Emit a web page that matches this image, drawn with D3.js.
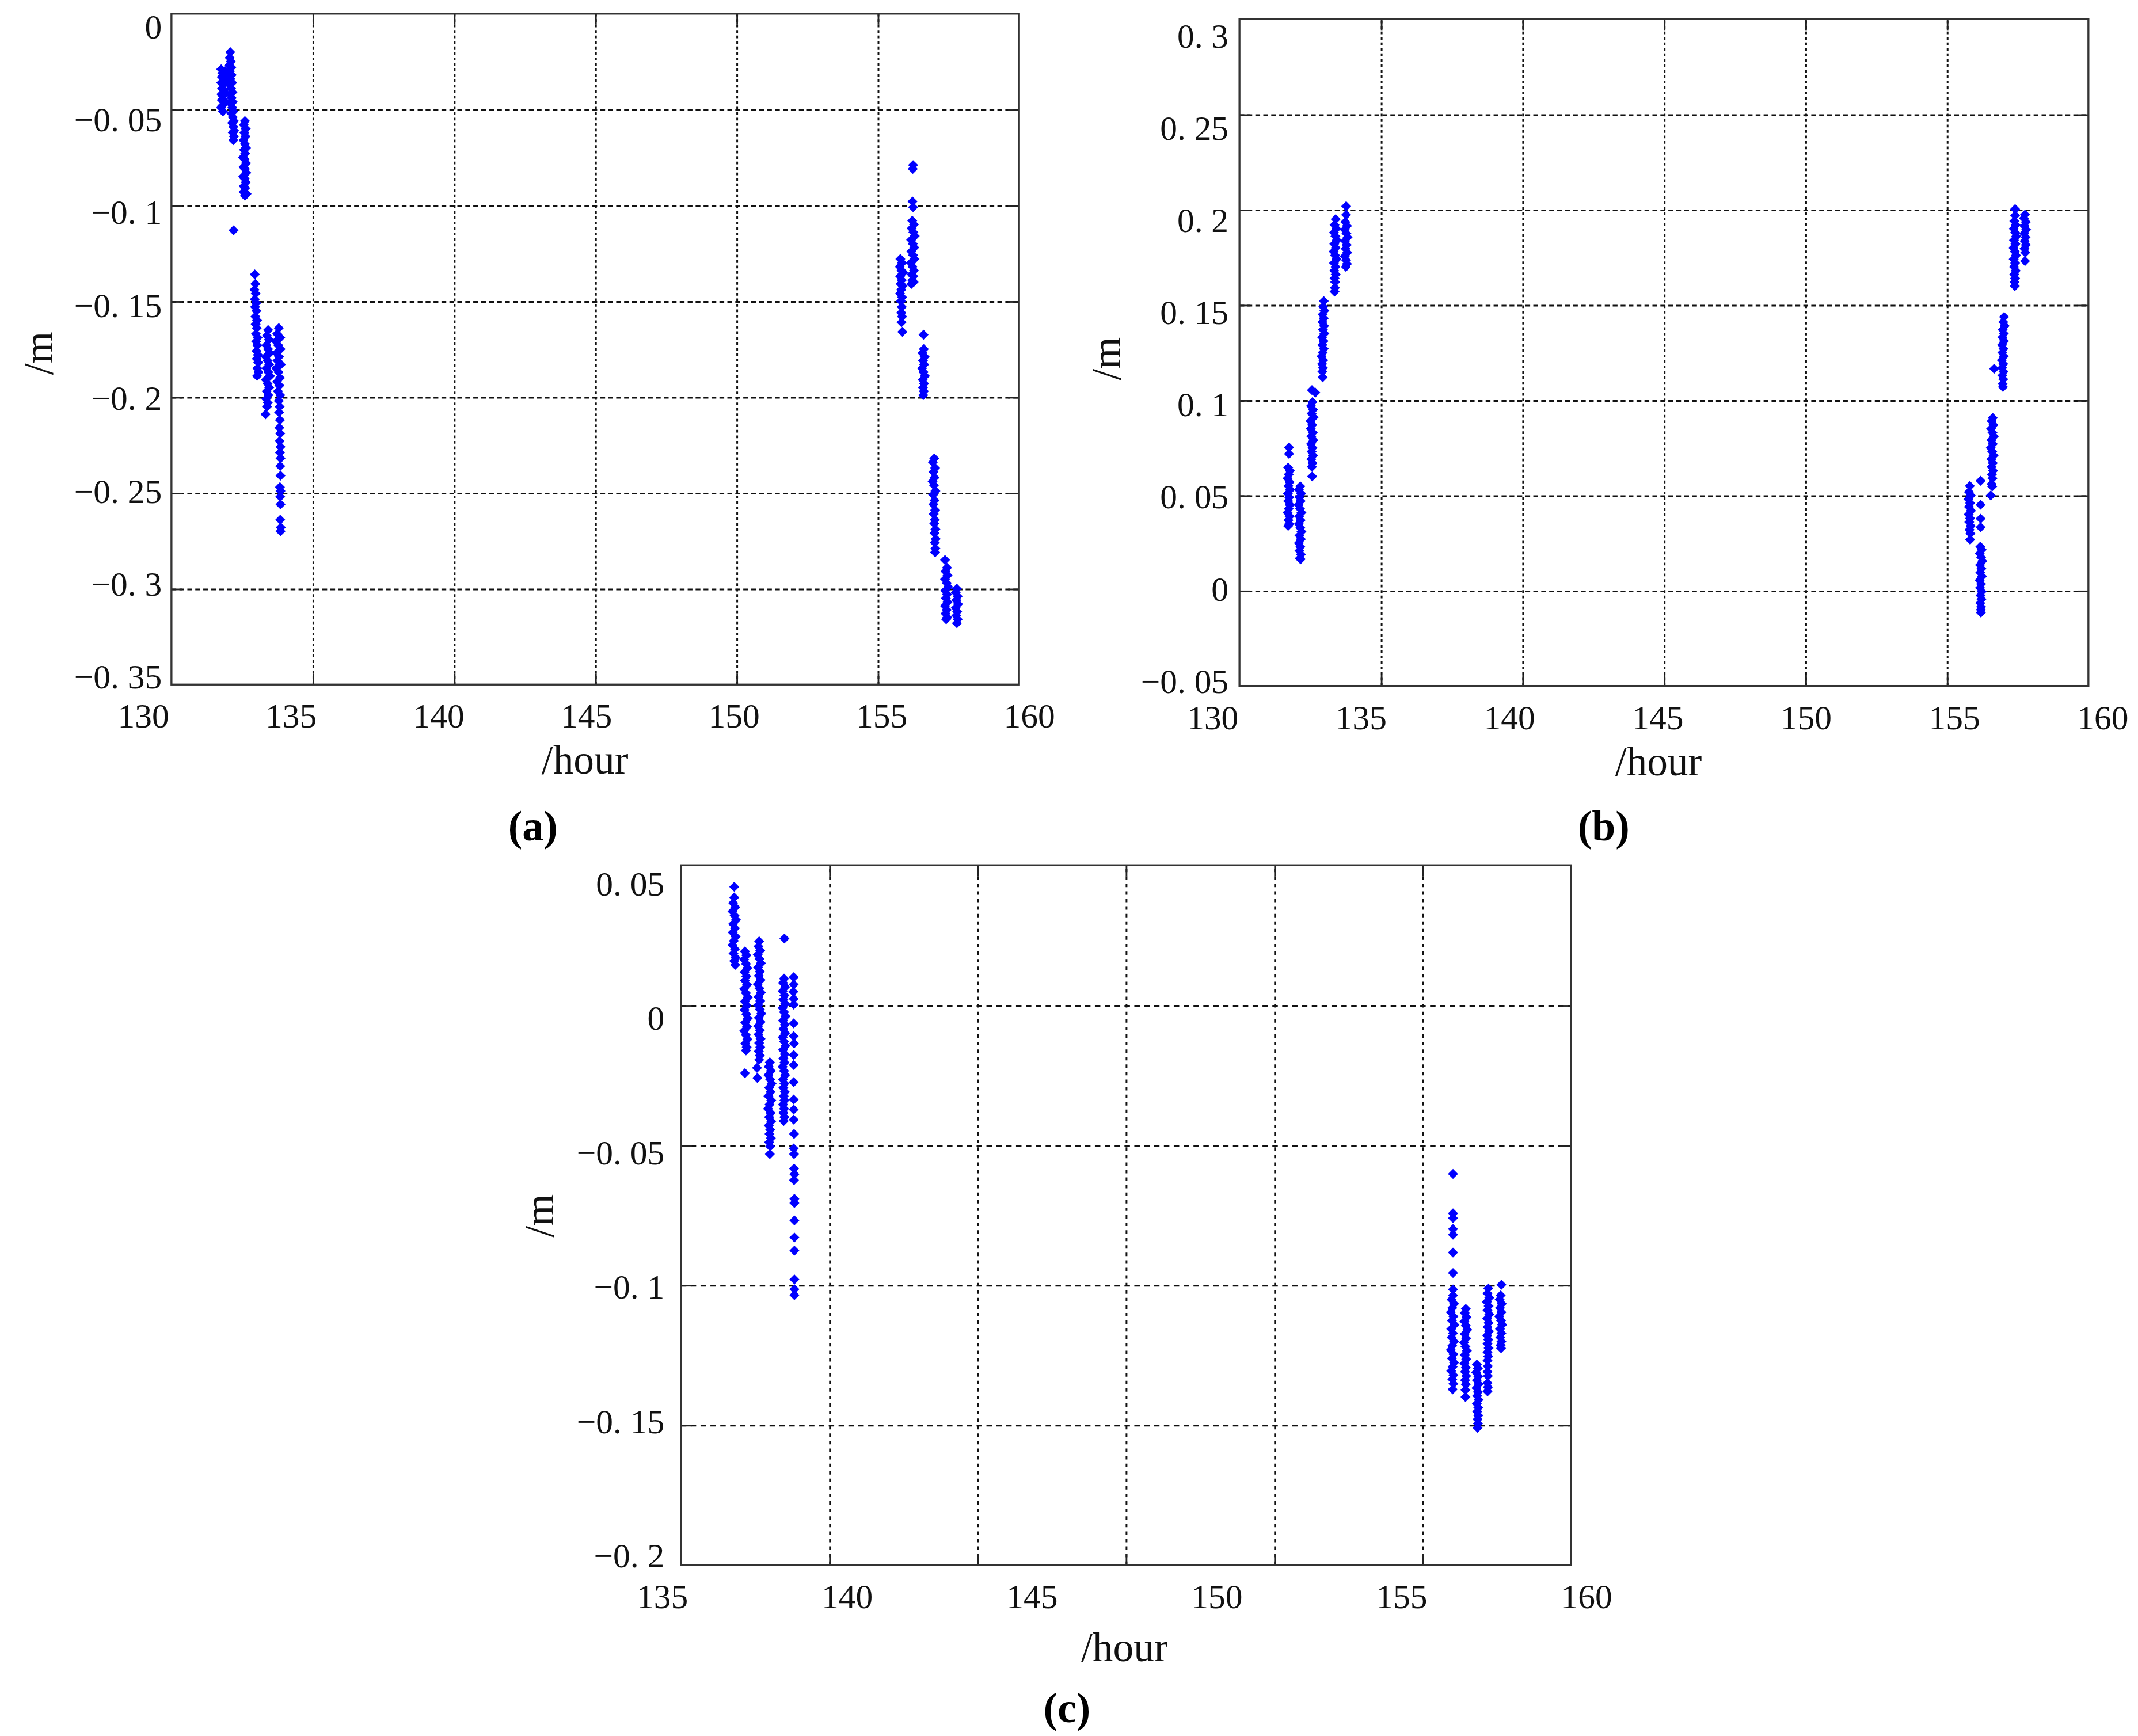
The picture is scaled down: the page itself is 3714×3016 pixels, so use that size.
<!DOCTYPE html>
<html><head><meta charset="utf-8">
<script src="https://cdn.jsdelivr.net/npm/d3@7"></script>
<style>html,body{margin:0;padding:0;background:#fff;}</style>
</head><body>
<svg id="chart" width="3714" height="3016" viewBox="0 0 1561 1268"></svg>
<script>
// ---------- data ----------
const xTicksAB = [130, 135, 140, 145, 150, 155, 160];
const yTicksA = [0, -0.05, -0.1, -0.15, -0.2, -0.25, -0.3, -0.35];
const yTicksB = [0.3, 0.25, 0.2, 0.15, 0.1, 0.05, 0, -0.05];
const xTicksC = [135, 140, 145, 150, 155, 160];
const yTicksC = [0.05, 0, -0.05, -0.1, -0.15, -0.2];
const gridXC = [139.17, 143.33, 147.5, 151.67, 155.83];

const pointsA = [
 [131.76,-0.029],[131.80,-0.031],[131.78,-0.033],[131.84,-0.034],[131.76,-0.036],[131.82,-0.037],[131.79,-0.039],[131.85,-0.040],[131.77,-0.042],[131.82,-0.043],[131.78,-0.045],[131.84,-0.046],[131.80,-0.048],[131.76,-0.049],[131.82,-0.051],[131.88,-0.030],[131.90,-0.035],[131.88,-0.041],[131.91,-0.046],
 [132.08,-0.020],[132.06,-0.023],[132.10,-0.025],[132.04,-0.027],[132.12,-0.028],[132.07,-0.030],[132.13,-0.032],[132.02,-0.033],[132.09,-0.034],[132.15,-0.036],[132.05,-0.037],[132.11,-0.039],[132.16,-0.041],[132.08,-0.042],[132.13,-0.044],[132.17,-0.046],[132.10,-0.047],[132.15,-0.049],[132.19,-0.051],[132.12,-0.052],[132.17,-0.054],[132.21,-0.056],[132.15,-0.057],[132.19,-0.059],[132.22,-0.061],[132.17,-0.062],[132.21,-0.064],[132.19,-0.066],
 [132.60,-0.056],[132.56,-0.058],[132.63,-0.060],[132.58,-0.062],[132.62,-0.064],[132.55,-0.066],[132.60,-0.068],[132.64,-0.070],[132.57,-0.071],[132.61,-0.073],[132.53,-0.075],[132.59,-0.076],[132.64,-0.078],[132.55,-0.080],[132.60,-0.081],[132.65,-0.083],[132.54,-0.085],[132.59,-0.086],[132.63,-0.088],[132.56,-0.090],[132.61,-0.091],[132.55,-0.093],[132.60,-0.095],[132.66,-0.094],
 [132.20,-0.113],
 [132.95,-0.136],[132.97,-0.141],[132.94,-0.144],[132.98,-0.146],[132.95,-0.149],[133.00,-0.151],[132.96,-0.153],[133.01,-0.155],[132.97,-0.158],[133.03,-0.160],[132.98,-0.162],[133.02,-0.164],[132.99,-0.167],[133.05,-0.169],[133.00,-0.171],[133.04,-0.173],[133.01,-0.176],[133.06,-0.178],[133.02,-0.180],[133.07,-0.182],[133.04,-0.185],[133.08,-0.187],[133.03,-0.189],
 [133.42,-0.165],[133.38,-0.168],[133.45,-0.170],[133.36,-0.173],[133.42,-0.175],[133.48,-0.177],[133.34,-0.179],[133.40,-0.181],[133.46,-0.183],[133.36,-0.185],[133.43,-0.187],[133.49,-0.189],[133.34,-0.191],[133.40,-0.193],[133.46,-0.195],[133.37,-0.197],[133.43,-0.199],[133.35,-0.201],[133.41,-0.203],[133.38,-0.205],[133.33,-0.209],
 [133.80,-0.164],[133.74,-0.167],[133.85,-0.169],[133.70,-0.171],[133.78,-0.173],[133.86,-0.175],[133.72,-0.177],[133.81,-0.179],[133.75,-0.181],[133.87,-0.183],[133.71,-0.185],[133.79,-0.187],[133.84,-0.190],[133.74,-0.192],[133.82,-0.194],[133.77,-0.197],[133.85,-0.199],[133.80,-0.202],[133.83,-0.205],[133.81,-0.208],[133.84,-0.212],[133.82,-0.216],[133.85,-0.219],[133.83,-0.223],[133.86,-0.226],[133.84,-0.229],[133.86,-0.232],[133.85,-0.236],[133.86,-0.241],[133.84,-0.247],[133.86,-0.249],[133.85,-0.252],[133.86,-0.256],[133.85,-0.264],[133.87,-0.268],[133.86,-0.270],
 [155.80,-0.128],[155.86,-0.130],[155.78,-0.132],[155.84,-0.134],[155.90,-0.135],[155.79,-0.137],[155.85,-0.139],[155.81,-0.141],[155.88,-0.142],[155.83,-0.144],[155.79,-0.146],[155.86,-0.148],[155.82,-0.150],[155.85,-0.153],[155.83,-0.156],[155.86,-0.158],[155.84,-0.161],[155.87,-0.166],
 [156.25,-0.079],[156.24,-0.081],[156.23,-0.098],[156.25,-0.101],[156.22,-0.108],[156.28,-0.110],[156.20,-0.112],[156.26,-0.114],[156.31,-0.116],[156.18,-0.118],[156.24,-0.120],[156.29,-0.122],[156.19,-0.124],[156.25,-0.126],[156.30,-0.128],[156.17,-0.130],[156.23,-0.132],[156.28,-0.134],[156.20,-0.136],[156.26,-0.137],[156.22,-0.139],[156.19,-0.141],[156.27,-0.140],
 [156.62,-0.1675],[156.63,-0.175],[156.58,-0.177],[156.66,-0.179],[156.60,-0.181],[156.64,-0.183],[156.57,-0.185],[156.62,-0.187],[156.67,-0.189],[156.59,-0.191],[156.64,-0.193],[156.60,-0.195],[156.63,-0.197],[156.61,-0.199],
 [157.00,-0.232],[156.95,-0.234],[157.03,-0.237],[156.97,-0.239],[157.01,-0.242],[156.94,-0.244],[156.99,-0.246],[157.04,-0.249],[156.96,-0.251],[157.01,-0.254],[156.97,-0.256],[157.03,-0.259],[156.98,-0.261],[157.02,-0.264],[157.00,-0.266],[157.04,-0.269],[157.01,-0.271],[157.05,-0.274],[157.02,-0.276],[157.04,-0.279],[157.03,-0.281],
 [157.38,-0.285],
 [157.45,-0.289],[157.40,-0.291],[157.47,-0.293],[157.38,-0.295],[157.44,-0.297],[157.49,-0.299],[157.39,-0.301],[157.45,-0.303],[157.41,-0.305],[157.47,-0.307],[157.38,-0.309],[157.44,-0.311],[157.40,-0.313],[157.46,-0.315],[157.42,-0.316],
 [157.80,-0.300],[157.76,-0.302],[157.83,-0.304],[157.78,-0.306],[157.84,-0.308],[157.76,-0.310],[157.81,-0.312],[157.78,-0.314],[157.83,-0.316],[157.80,-0.318]
];

const pointsB = [
 [131.75,0.0752],[131.75,0.0718],[131.72,0.0646],[131.78,0.0630],[131.74,0.0610],[131.70,0.0590],[131.77,0.0570],[131.73,0.0550],[131.79,0.0530],[131.71,0.0510],[131.76,0.0490],[131.72,0.0470],[131.78,0.0450],[131.74,0.0430],[131.70,0.0410],[131.77,0.0390],[131.73,0.0370],[131.76,0.0350],[131.72,0.0340],
 [132.15,0.0548],[132.10,0.0530],[132.18,0.0510],[132.12,0.0490],[132.16,0.0470],[132.09,0.0450],[132.14,0.0430],[132.19,0.0410],[132.11,0.0390],[132.16,0.0370],[132.10,0.0350],[132.15,0.0330],[132.19,0.0310],[132.12,0.0290],[132.17,0.0270],[132.10,0.0250],[132.15,0.0230],[132.12,0.0210],[132.17,0.0190],[132.13,0.0170],[132.16,0.0165],
 [132.56,0.1053],[132.68,0.1040],[132.58,0.0990],[132.53,0.0970],[132.60,0.0950],[132.55,0.0930],[132.62,0.0910],[132.51,0.0890],[132.57,0.0870],[132.52,0.0850],[132.59,0.0830],[132.54,0.0810],[132.61,0.0790],[132.53,0.0770],[132.58,0.0750],[132.55,0.0730],[132.60,0.0710],[132.54,0.0690],[132.58,0.0670],[132.56,0.0650],[132.57,0.0600],
 [132.98,0.1520],[132.96,0.1490],[133.00,0.1470],[132.94,0.1450],[132.98,0.1430],[132.93,0.1410],[132.99,0.1390],[132.95,0.1370],[133.00,0.1350],[132.92,0.1330],[132.97,0.1310],[132.93,0.1290],[132.98,0.1270],[132.94,0.1250],[132.90,0.1230],[132.96,0.1210],[132.92,0.1190],[132.95,0.1170],[132.93,0.1150],[132.94,0.1120],
 [133.40,0.1950],[133.36,0.1920],[133.42,0.1900],[133.34,0.1880],[133.39,0.1860],[133.44,0.1840],[133.35,0.1820],[133.40,0.1800],[133.33,0.1780],[133.38,0.1760],[133.43,0.1740],[133.34,0.1720],[133.39,0.1700],[133.35,0.1680],[133.40,0.1660],[133.36,0.1640],[133.38,0.1620],[133.37,0.1590],[133.36,0.1570],
 [133.77,0.2018],[133.77,0.1973],[133.74,0.1935],[133.80,0.1915],[133.72,0.1895],[133.78,0.1875],[133.82,0.1855],[133.73,0.1835],[133.79,0.1815],[133.75,0.1795],[133.81,0.1775],[133.72,0.1755],[133.77,0.1735],[133.80,0.1715],[133.76,0.1700],
 [155.81,0.0550],[155.78,0.0518],[155.84,0.0500],[155.76,0.0480],[155.82,0.0460],[155.78,0.0440],[155.85,0.0420],[155.77,0.0400],[155.82,0.0380],[155.79,0.0360],[155.84,0.0340],[155.80,0.0320],[155.83,0.0300],[155.82,0.0268],
 [156.19,0.0577],[156.19,0.0451],[156.19,0.0378],[156.19,0.0333],[156.18,0.0231],[156.23,0.0215],[156.16,0.0195],[156.21,0.0175],[156.25,0.0155],[156.17,0.0135],[156.22,0.0115],[156.18,0.0095],[156.24,0.0075],[156.16,0.0055],[156.21,0.0035],[156.17,0.0015],[156.23,-0.0005],[156.19,-0.0025],[156.22,-0.0045],[156.18,-0.0065],[156.21,-0.0085],[156.20,-0.0100],[156.20,-0.0115],
 [156.62,0.0907],[156.58,0.0890],[156.64,0.0870],[156.56,0.0850],[156.61,0.0830],[156.66,0.0810],[156.57,0.0790],[156.62,0.0770],[156.55,0.0750],[156.60,0.0730],[156.65,0.0710],[156.57,0.0690],[156.62,0.0670],[156.58,0.0650],[156.63,0.0630],[156.59,0.0610],[156.61,0.0590],[156.58,0.0560],[156.60,0.0547],[156.55,0.0500],
 [157.02,0.1437],[156.99,0.1410],[157.04,0.1390],[156.97,0.1370],[157.01,0.1350],[156.96,0.1330],[157.02,0.1310],[156.95,0.1290],[157.00,0.1270],[156.96,0.1250],[157.01,0.1230],[156.94,0.1210],[156.99,0.1190],[156.95,0.1170],[157.00,0.1150],[156.96,0.1130],[156.99,0.1110],[156.97,0.1085],[156.98,0.1069],[156.67,0.1165],
 [157.41,0.2003],[157.41,0.1970],[157.38,0.1940],[157.43,0.1920],[157.36,0.1900],[157.41,0.1880],[157.45,0.1860],[157.37,0.1840],[157.42,0.1820],[157.35,0.1800],[157.40,0.1780],[157.44,0.1760],[157.36,0.1740],[157.41,0.1720],[157.37,0.1700],[157.43,0.1680],[157.38,0.1660],[157.41,0.1640],[157.39,0.1620],[157.40,0.1599],
 [157.76,0.1974],[157.72,0.1955],[157.79,0.1935],[157.74,0.1915],[157.80,0.1895],[157.73,0.1875],[157.78,0.1855],[157.75,0.1835],[157.79,0.1815],[157.74,0.1795],[157.77,0.1775],[157.76,0.1730]
];

const pointsC = [
 [136.50,0.0423],[136.50,0.0385],[136.47,0.0365],[136.53,0.0350],[136.45,0.0335],[136.51,0.0320],[136.55,0.0305],[136.47,0.0290],[136.52,0.0275],[136.46,0.0260],[136.54,0.0245],[136.49,0.0230],[136.45,0.0215],[136.52,0.0200],[136.48,0.0185],[136.54,0.0170],[136.50,0.0158],[136.53,0.0144],
 [136.80,0.0192],[136.84,0.0178],[136.78,0.0163],[136.83,0.0148],[136.87,0.0133],[136.79,0.0118],[136.84,0.0103],[136.80,0.0088],[136.86,0.0073],[136.78,0.0058],[136.83,0.0043],[136.88,0.0028],[136.80,0.0013],[136.85,-0.0002],[136.79,-0.0017],[136.84,-0.0032],[136.88,-0.0047],[136.81,-0.0062],[136.86,-0.0077],[136.78,-0.0092],[136.83,-0.0107],[136.87,-0.0122],[136.81,-0.0137],[136.85,-0.0150],[136.83,-0.0162],[136.80,-0.0243],
 [137.20,0.0228],[137.18,0.0210],[137.23,0.0195],[137.16,0.0180],[137.21,0.0165],[137.25,0.0150],[137.17,0.0135],[137.22,0.0120],[137.19,0.0105],[137.24,0.0090],[137.16,0.0075],[137.21,0.0060],[137.25,0.0045],[137.18,0.0030],[137.23,0.0015],[137.17,0.0000],[137.22,-0.0015],[137.26,-0.0030],[137.19,-0.0045],[137.24,-0.0060],[137.17,-0.0075],[137.22,-0.0090],[137.18,-0.0105],[137.24,-0.0120],[137.20,-0.0135],[137.23,-0.0150],[137.19,-0.0165],[137.22,-0.0180],[137.20,-0.0195],[137.14,-0.0224],[137.15,-0.0260],
 [137.50,-0.0204],[137.47,-0.0220],[137.53,-0.0235],[137.46,-0.0250],[137.51,-0.0265],[137.55,-0.0280],[137.48,-0.0295],[137.52,-0.0310],[137.46,-0.0325],[137.54,-0.0340],[137.49,-0.0355],[137.45,-0.0370],[137.52,-0.0385],[137.48,-0.0400],[137.54,-0.0415],[137.47,-0.0430],[137.51,-0.0445],[137.49,-0.0460],[137.53,-0.0475],[137.48,-0.0490],[137.51,-0.0505],[137.50,-0.0532],
 [137.91,0.0238],[137.90,0.0095],[137.87,0.0080],[137.93,0.0065],[137.86,0.0050],[137.91,0.0035],[137.88,0.0020],[137.93,0.0005],[137.86,-0.0010],[137.90,-0.0025],[137.94,-0.0040],[137.87,-0.0055],[137.92,-0.0070],[137.88,-0.0085],[137.93,-0.0100],[137.86,-0.0115],[137.90,-0.0130],[137.94,-0.0145],[137.87,-0.0160],[137.92,-0.0175],[137.88,-0.0190],[137.91,-0.0205],[137.86,-0.0220],[137.90,-0.0235],[137.93,-0.0250],[137.87,-0.0265],[137.91,-0.0280],[137.88,-0.0295],[137.92,-0.0310],[137.89,-0.0325],[137.91,-0.0340],[137.87,-0.0355],[137.90,-0.0370],[137.88,-0.0385],[137.91,-0.0400],[137.89,-0.0414],
 [138.17,0.0100],[138.17,0.0074],[138.16,0.0048],[138.17,0.0023],[138.17,0.0002],[138.17,-0.0065],[138.17,-0.0111],[138.18,-0.0137],[138.17,-0.0178],[138.17,-0.0214],[138.17,-0.0275],[138.17,-0.0337],[138.17,-0.0373],[138.17,-0.0409],[138.18,-0.0460],[138.17,-0.0512],[138.18,-0.0532],[138.18,-0.0584],[138.19,-0.0604],[138.18,-0.0625],[138.19,-0.0692],[138.19,-0.0707],[138.19,-0.0769],[138.19,-0.0830],[138.19,-0.0877],[138.19,-0.0980],[138.19,-0.1015],[138.19,-0.1036],
 [156.69,-0.0603],[156.69,-0.0744],[156.69,-0.0761],[156.69,-0.0800],[156.69,-0.0820],[156.69,-0.0884],[156.69,-0.0957],[156.69,-0.1016],
 [156.69,-0.1037],[156.65,-0.1052],[156.72,-0.1067],[156.67,-0.1082],[156.63,-0.1097],[156.70,-0.1112],[156.66,-0.1127],[156.73,-0.1142],[156.64,-0.1157],[156.69,-0.1172],[156.65,-0.1187],[156.72,-0.1202],[156.67,-0.1217],[156.63,-0.1232],[156.70,-0.1247],[156.66,-0.1262],[156.72,-0.1277],[156.68,-0.1292],[156.64,-0.1307],[156.70,-0.1322],[156.67,-0.1337],[156.70,-0.1353],[156.68,-0.1373],
 [157.05,-0.1085],[157.02,-0.1100],[157.07,-0.1115],[157.01,-0.1130],[157.05,-0.1145],[157.09,-0.1160],[157.02,-0.1175],[157.06,-0.1190],[157.00,-0.1205],[157.04,-0.1220],[157.08,-0.1235],[157.02,-0.1250],[157.06,-0.1265],[157.01,-0.1280],[157.05,-0.1295],[157.03,-0.1310],[157.06,-0.1325],[157.03,-0.1340],[157.05,-0.1355],[157.04,-0.1375],[157.04,-0.1400],
 [157.36,-0.1284],[157.39,-0.1298],[157.34,-0.1312],[157.40,-0.1326],[157.36,-0.1340],[157.41,-0.1354],[157.35,-0.1368],[157.39,-0.1382],[157.37,-0.1396],[157.41,-0.1410],[157.36,-0.1424],[157.40,-0.1438],[157.37,-0.1452],[157.40,-0.1466],[157.38,-0.1480],[157.39,-0.1495],[157.38,-0.1510],
 [157.68,-0.1012],[157.66,-0.1030],[157.71,-0.1045],[157.64,-0.1060],[157.69,-0.1075],[157.66,-0.1090],[157.71,-0.1105],[157.65,-0.1120],[157.69,-0.1135],[157.66,-0.1150],[157.70,-0.1165],[157.65,-0.1180],[157.68,-0.1195],[157.66,-0.1210],[157.69,-0.1225],[157.66,-0.1240],[157.68,-0.1255],[157.66,-0.1270],[157.67,-0.1290],[157.66,-0.1310],[157.67,-0.1325],[157.66,-0.1350],[157.67,-0.1365],[157.66,-0.1380],
 [158.05,-0.0999],[158.03,-0.1037],[158.00,-0.1052],[158.06,-0.1067],[158.01,-0.1082],[158.05,-0.1097],[157.99,-0.1112],[158.04,-0.1127],[158.07,-0.1142],[158.01,-0.1157],[158.05,-0.1172],[158.02,-0.1187],[158.05,-0.1202],[158.03,-0.1215],[158.04,-0.1226]
];

// ---------- layout ----------
const FONT = "'Liberation Serif', 'DejaVu Serif', serif";
const panels = [
  {pts: pointsA, xDom: [130,160], yDom: [0,-0.35], box: {l:125, r:744, t:10, b:500},
   xTicks: xTicksAB, yTicks: yTicksA, xGrid: xTicksAB.slice(1,-1), yGrid: yTicksA.slice(1,-1),
   xLab: [104,751], yLab: [19,494], labRight: 118, xLabY: 523, hour: [427,555], m: [29,258],
   cap: "(a)", capPos: [389,604], hDash: "3.5 2.3", vDash: "2 2"},
  {pts: pointsB, xDom: [130,160], yDom: [0.3,-0.05], box: {l:905, r:1525, t:14, b:501},
   xTicks: xTicksAB, yTicks: yTicksB, xGrid: xTicksAB.slice(1,-1), yGrid: yTicksB.slice(1,-1),
   xLab: [885,1535], yLab: [26,497], labRight: 897, xLabY: 524, hour: [1211,556], m: [809,262],
   cap: "(b)", capPos: [1171,604], hDash: "3.5 2.3", vDash: "2 2"},
  {pts: pointsC, xDom: [135,160], yDom: [0.05,-0.2], box: {l:497, r:1147, t:632, b:1143},
   xTicks: xTicksC, yTicks: yTicksC, xGrid: gridXC, yGrid: yTicksC.slice(1,-1),
   xLab: [483,1158], yLab: [645,1136], labRight: 485, xLabY: 1166, hour: [821,1203], m: [395,888],
   cap: "(c)", capPos: [779,1248], hDash: "4 3.2", vDash: "2.5 3"}
];

const svg = d3.select("#chart");
svg.append("rect").attr("width",1561).attr("height",1268).attr("fill","#fff");

function fmt(v){
  if (v === 0) return "0";
  return (v < 0 ? "\u2212" : "") + Math.abs(v).toString().replace(".", ". ");
}

const diamond = d3.symbolDiamond2 || {draw(ctx,size){const r=Math.sqrt(size)*0.62625;ctx.moveTo(0,-r);ctx.lineTo(r,0);ctx.lineTo(0,r);ctx.lineTo(-r,0);ctx.closePath();}};
const markerPath = d3.symbol(diamond, 34)();

function styleAxis(sel, color, width, dash){
  sel.select(".domain").remove();
  sel.selectAll(".tick line").attr("stroke", color).attr("stroke-width", width)
     .attr("stroke-dasharray", dash || null);
  sel.selectAll(".tick text").remove();
}

function drawPanel(cfg){
  const b = cfg.box, W = b.r - b.l, H = b.b - b.t;
  const x = d3.scaleLinear().domain(cfg.xDom).range([b.l, b.r]);
  const y = d3.scaleLinear().domain(cfg.yDom).range([b.t, b.b]);
  const g = svg.append("g");

  // grid lines
  g.append("g").attr("transform", `translate(${b.l},0)`)
    .call(d3.axisLeft(y).tickValues(cfg.yGrid).tickSize(-W).tickFormat(""))
    .call(s => styleAxis(s, "#111", 1.25, cfg.hDash));
  g.append("g").attr("transform", `translate(0,${b.b})`)
    .call(d3.axisBottom(x).tickValues(cfg.xGrid).tickSize(-H).tickFormat(""))
    .call(s => styleAxis(s, "#111", 1.25, cfg.vDash));

  // inner tick marks on all four sides
  const tl = 8;
  g.append("g").attr("transform", `translate(${b.l},0)`)
    .call(d3.axisLeft(y).tickValues(cfg.yGrid).tickSize(-tl).tickFormat("")).call(s => styleAxis(s, "#222", 1.2));
  g.append("g").attr("transform", `translate(${b.r},0)`)
    .call(d3.axisRight(y).tickValues(cfg.yGrid).tickSize(-tl).tickFormat("")).call(s => styleAxis(s, "#222", 1.2));
  g.append("g").attr("transform", `translate(0,${b.b})`)
    .call(d3.axisBottom(x).tickValues(cfg.xGrid).tickSize(-tl).tickFormat("")).call(s => styleAxis(s, "#222", 1.2));
  g.append("g").attr("transform", `translate(0,${b.t})`)
    .call(d3.axisTop(x).tickValues(cfg.xGrid).tickSize(-tl).tickFormat("")).call(s => styleAxis(s, "#222", 1.2));

  // frame
  g.append("rect").attr("x", b.l).attr("y", b.t).attr("width", W).attr("height", H)
    .attr("fill", "none").attr("stroke", "#333").attr("stroke-width", 1.4);

  // points
  g.append("g").selectAll("path").data(cfg.pts).join("path")
    .attr("d", markerPath)
    .attr("transform", d => `translate(${x(d[0]).toFixed(2)},${y(d[1]).toFixed(2)})`)
    .attr("fill", "#0000ff");

  // tick labels (label positions follow their own scales, as in the source figure)
  const xl = d3.scaleLinear().domain([cfg.xTicks[0], cfg.xTicks[cfg.xTicks.length-1]]).range(cfg.xLab);
  const yl = d3.scaleLinear().domain([cfg.yTicks[0], cfg.yTicks[cfg.yTicks.length-1]]).range(cfg.yLab);
  const ya = g.append("g").attr("transform", `translate(${cfg.labRight},0)`)
    .call(d3.axisLeft(yl).tickValues(cfg.yTicks).tickSize(0).tickPadding(0).tickFormat(fmt));
  ya.select(".domain").remove();
  ya.attr("font-family", null).attr("font-size", null);
  ya.selectAll("text").attr("font-family", FONT).attr("font-size", 25).attr("fill", "#111").attr("dy", "0.34em");
  const xa = g.append("g").attr("transform", `translate(0,${cfg.xLabY})`)
    .call(d3.axisBottom(xl).tickValues(cfg.xTicks).tickSize(0).tickPadding(0).tickFormat(d => String(d)));
  xa.select(".domain").remove();
  xa.attr("font-family", null).attr("font-size", null);
  xa.selectAll("text").attr("font-family", FONT).attr("font-size", 25).attr("fill", "#111").attr("y", 0).attr("dy", "0.34em");

  // axis titles
  g.append("text").attr("x", cfg.hour[0]).attr("y", cfg.hour[1]).attr("dy", "0.34em")
    .attr("text-anchor", "middle").attr("font-family", FONT).attr("font-size", 30).attr("fill", "#111").text("/hour");
  g.append("text").attr("transform", `translate(${cfg.m[0]},${cfg.m[1]}) rotate(-90)`).attr("dy", "0.3em")
    .attr("text-anchor", "middle").attr("font-family", FONT).attr("font-size", 30).attr("fill", "#111").text("/m");
  // caption
  g.append("text").attr("x", cfg.capPos[0]).attr("y", cfg.capPos[1]).attr("dy", "0.32em")
    .attr("text-anchor", "middle").attr("font-family", FONT).attr("font-weight", "bold")
    .attr("font-size", 31).attr("fill", "#000").text(cfg.cap);
}

panels.forEach(drawPanel);
</script>
</body></html>
